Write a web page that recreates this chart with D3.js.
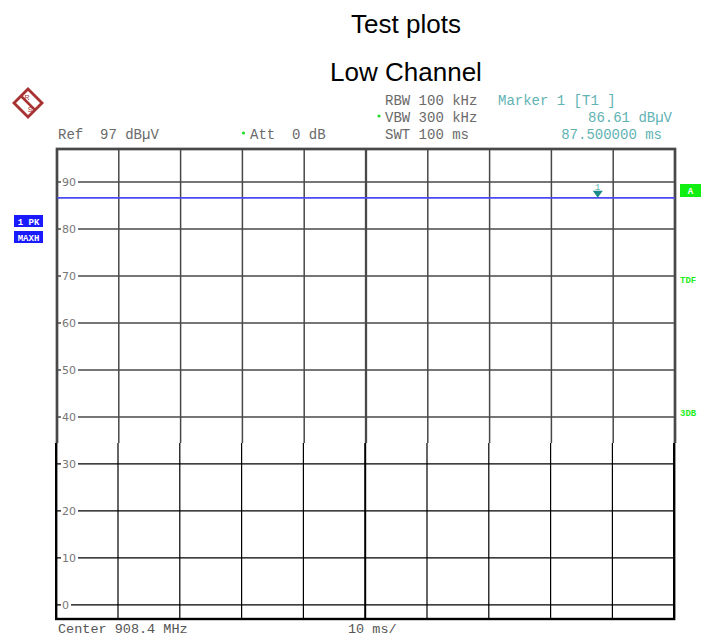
<!DOCTYPE html>
<html>
<head>
<meta charset="utf-8">
<script src="https://cdn.jsdelivr.net/npm/d3@7"></script>
<style>
  body { margin: 0; background: #fff; }
  svg { display: block; }
</style>
</head>
<body>
<script>
// ---- chart values ----
var titleLines = ['Test plots', 'Low Channel'];
var levelTicks = [0, 10, 20, 30, 40, 50, 60, 70, 80, 90];   // dBµV
var timeTicks = [0, 10, 20, 30, 40, 50, 60, 70, 80, 90, 100]; // ms
var levelRange = [-3, 97];   // ref 97 dBµV, 10 dB/div
var timeRange = [0, 100];    // SWT 100 ms
var traceTimes = [0, 100];
var traceLevels = [86.6, 86.6];
var markerTime = 87.5;
var markerLevel = 86.61;
var headerLeft = ['Ref  97 dB\u00b5V', 'Att  0 dB'];
var headerMid = ['RBW 100 kHz', 'VBW 300 kHz', 'SWT 100 ms'];
var markerText = ['Marker 1 [T1 ]', '86.61 dB\u00b5V', '87.500000 ms'];
var footerText = ['Center 908.4 MHz', '10 ms/'];

var W = 702, H = 637;
var PL = 57, PR = 675, PT = 149, PB = 619;
var SPLIT = 443; // screenshot was pasted in two pieces; upper part greyer

var MONO = "'Liberation Mono', 'DejaVu Sans Mono', monospace";
var GREY = '#6a6a6a';
var TEAL = '#5fb3b3';
var LOGO = '#a83232';

var svg = d3.select('body').append('svg')
	.attr('width', W)
	.attr('height', H);

var x = d3.scaleLinear().domain(timeRange).range([PL, PR]);
var y = d3.scaleLinear().domain(levelRange).range([PB, PT]);

// ------------------------ TITLE ------------------------
svg.selectAll('.title')
	.data(titleLines)
	.enter().append('text')
	.attr('x', 406)
	.attr('y', function(d, i) { return 33 + i * 48; })
	.attr('text-anchor', 'middle')
	.attr('font-family', "'Liberation Sans', Arial, sans-serif")
	.attr('font-size', '26px')
	.attr('fill', '#000')
	.text(function(d) { return d; });

// ------------------------ R&S LOGO ------------------------
var logo = svg.append('g').attr('transform', 'translate(28,103)');
logo.append('path')
	.attr('d', 'M0,-16 L16,0 L0,16 L-16,0 Z')
	.attr('fill', LOGO);
logo.append('path')
	.attr('d', 'M0,-12 L12,0 L0,12 L-12,0 Z')
	.attr('fill', '#fff');
logo.append('line')
	.attr('x1', -7).attr('y1', -7).attr('x2', 7).attr('y2', 7)
	.attr('stroke', LOGO).attr('stroke-width', 2.5);
logo.append('text').attr('x', -1).attr('y', -3)
	.attr('font-family', 'Liberation Sans, sans-serif').attr('font-size', '7px')
	.attr('fill', LOGO).attr('text-anchor', 'middle').text('R');
logo.append('text').attr('x', 2).attr('y', 9)
	.attr('font-family', 'Liberation Sans, sans-serif').attr('font-size', '7px')
	.attr('fill', LOGO).attr('text-anchor', 'middle').text('S');

// ------------------------ HEADER TEXT ------------------------
svg.append('text')
	.attr('x', 58).attr('y', 139)
	.attr('font-family', MONO).attr('font-size', '14px').attr('fill', GREY)
	.attr('xml:space', 'preserve')
	.text(headerLeft[0]);

svg.append('text')
	.attr('x', 250).attr('y', 139)
	.attr('font-family', MONO).attr('font-size', '14px').attr('fill', GREY)
	.attr('xml:space', 'preserve')
	.text(headerLeft[1]);
svg.append('circle').attr('cx', 243.5).attr('cy', 133).attr('r', 1.6).attr('fill', '#22dd22');

svg.selectAll('.hmid')
	.data(headerMid)
	.enter().append('text')
	.attr('x', 385)
	.attr('y', function(d, i) { return 105 + i * 17; })
	.attr('font-family', MONO).attr('font-size', '14px').attr('fill', GREY)
	.text(function(d) { return d; });
svg.append('circle').attr('cx', 379).attr('cy', 116).attr('r', 1.6).attr('fill', '#22dd22');

svg.append('text')
	.attr('x', 498).attr('y', 105)
	.attr('font-family', MONO).attr('font-size', '14px').attr('fill', TEAL)
	.attr('xml:space', 'preserve')
	.text(markerText[0]);
svg.append('text')
	.attr('x', 672).attr('y', 122).attr('text-anchor', 'end')
	.attr('font-family', MONO).attr('font-size', '14px').attr('fill', TEAL)
	.text(markerText[1]);
svg.append('text')
	.attr('x', 662).attr('y', 139).attr('text-anchor', 'end')
	.attr('font-family', MONO).attr('font-size', '14px').attr('fill', TEAL)
	.text(markerText[2]);

// ------------------------ GRID ------------------------
var defs = svg.append('defs');
defs.append('clipPath').attr('id', 'clip-top')
	.append('rect').attr('x', 0).attr('y', 0).attr('width', W).attr('height', SPLIT);
defs.append('clipPath').attr('id', 'clip-bot')
	.append('rect').attr('x', 0).attr('y', SPLIT).attr('width', W).attr('height', H - SPLIT);

function drawGrid(g, color, width, dx) {
	g.selectAll('.vline')
		.data(timeTicks.slice(1, -1))
		.enter().append('line')
		.attr('x1', function(d) { return x(d) + dx; })
		.attr('x2', function(d) { return x(d) + dx; })
		.attr('y1', PT).attr('y2', PB)
		.attr('stroke', color)
		.attr('stroke-width', function(d) { return d === 50 ? width + 0.8 : width; });
	g.selectAll('.hline')
		.data(levelTicks)
		.enter().append('line')
		.attr('x1', PL).attr('x2', PR)
		.attr('y1', function(d) { return y(d); })
		.attr('y2', function(d) { return y(d); })
		.attr('stroke', color)
		.attr('stroke-width', width);
	g.append('rect')
		.attr('x', PL + dx).attr('y', PT)
		.attr('width', PR - PL).attr('height', PB - PT)
		.attr('fill', 'none')
		.attr('stroke', color)
		.attr('stroke-width', width + 1.2);
}

drawGrid(svg.append('g').attr('clip-path', 'url(#clip-top)'), '#484848', 1.5, 0);
drawGrid(svg.append('g').attr('clip-path', 'url(#clip-bot)'), '#000', 1.2, -0.8);

// level labels sitting on the grid lines
var lab = svg.append('g');
lab.selectAll('rect')
	.data(levelTicks)
	.enter().append('rect')
	.attr('x', PL + 4)
	.attr('y', function(d) { return y(d) - 5; })
	.attr('width', function(d) { return d === 0 ? 10 : 17; })
	.attr('height', 10)
	.attr('fill', '#fff');
lab.selectAll('text')
	.data(levelTicks)
	.enter().append('text')
	.attr('x', PL + 5)
	.attr('y', function(d) { return y(d) + 4; })
	.attr('font-family', "'DejaVu Sans', sans-serif")
	.attr('font-size', '11px')
	.attr('fill', '#777')
	.text(function(d) { return d; });

// ------------------------ TRACE ------------------------
var trace = traceTimes.map(function(t, i) { return [t, traceLevels[i]]; });
svg.append('path')
	.datum(trace)
	.attr('d', d3.line().x(function(d) { return x(d[0]); }).y(function(d) { return y(d[1]); }))
	.attr('fill', 'none')
	.attr('stroke', '#4a4af0')
	.attr('stroke-width', 1.6);

// ------------------------ MARKER ------------------------
var mx = x(markerTime), my = y(markerLevel);
svg.append('path')
	.attr('d', 'M' + (mx - 5) + ',' + (my - 7) + ' L' + (mx + 5) + ',' + (my - 7) + ' L' + mx + ',' + my + ' Z')
	.attr('fill', '#1c8a8a');
svg.append('text')
	.attr('x', mx).attr('y', my - 8)
	.attr('text-anchor', 'middle')
	.attr('font-family', MONO).attr('font-size', '9px').attr('fill', TEAL)
	.text('1');

// ------------------------ SIDE LABELS ------------------------
var leftBoxes = ['1 PK', 'MAXH'];
svg.selectAll('.lbox')
	.data(leftBoxes)
	.enter().append('rect')
	.attr('x', 14).attr('y', function(d, i) { return 215 + i * 16; })
	.attr('width', 29).attr('height', 12)
	.attr('fill', '#1a1aff');
svg.selectAll('.ltext')
	.data(leftBoxes)
	.enter().append('text')
	.attr('x', 28.5).attr('y', function(d, i) { return 224.5 + i * 16; })
	.attr('text-anchor', 'middle')
	.attr('font-family', MONO).attr('font-size', '9px').attr('font-weight', 'bold')
	.attr('fill', '#fff')
	.attr('xml:space', 'preserve')
	.text(function(d) { return d; });

svg.append('rect')
	.attr('x', 680).attr('y', 184).attr('width', 21).attr('height', 13)
	.attr('fill', '#11ee11');
svg.append('text')
	.attr('x', 690.5).attr('y', 194).attr('text-anchor', 'middle')
	.attr('font-family', MONO).attr('font-size', '9px').attr('font-weight', 'bold')
	.attr('fill', '#fff').text('A');

var rightLabels = [['TDF', 280], ['3DB', 413]];
svg.selectAll('.rlab')
	.data(rightLabels)
	.enter().append('text')
	.attr('x', 680).attr('y', function(d) { return d[1] + 3; })
	.attr('font-family', MONO).attr('font-size', '9px').attr('font-weight', 'bold')
	.attr('fill', '#22ee22')
	.text(function(d) { return d[0]; });

// ------------------------ FOOTER ------------------------
svg.selectAll('.foot')
	.data(footerText)
	.enter().append('text')
	.attr('x', function(d, i) { return i === 0 ? 58 : 348; })
	.attr('y', 633)
	.attr('font-family', MONO).attr('font-size', '13.5px').attr('fill', '#555')
	.text(function(d) { return d; });
</script>
</body>
</html>
